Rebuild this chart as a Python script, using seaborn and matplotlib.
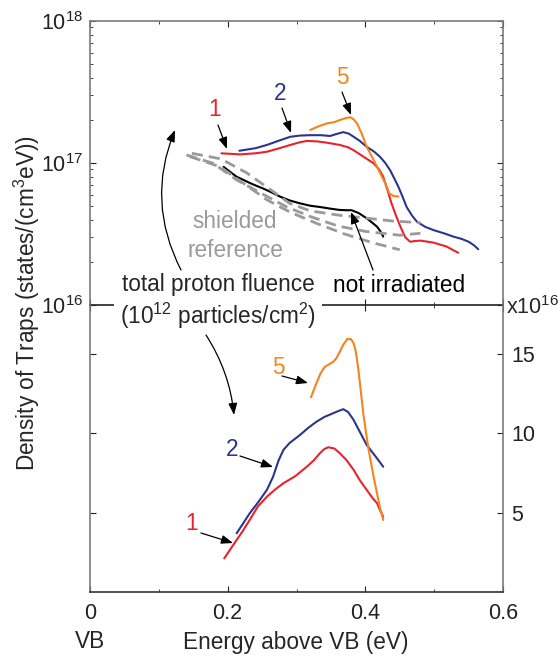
import numpy as np
import pandas as pd
import matplotlib
matplotlib.use("Agg")
import matplotlib.pyplot as plt
from matplotlib.ticker import LogLocator, NullFormatter, MultipleLocator
import seaborn as sns

# energy above VB (eV) and density of traps, upper panel in units of 1e16 states/(cm^3 eV)
up_red_x = [0.191, 0.218, 0.240, 0.257, 0.275, 0.291, 0.305, 0.315, 0.330, 0.344, 0.363, 0.375, 0.383, 0.397, 0.412, 0.420, 0.426,
            0.432, 0.438, 0.445, 0.451, 0.458, 0.465, 0.472, 0.480, 0.499, 0.518, 0.535]
up_red_y = [11.7, 11.5, 11.7, 12.0, 12.7, 13.4, 14.0, 14.3, 14.2, 13.9, 13.4, 12.9, 12.3, 11.1, 9.95, 9.0, 8.0,
            6.5, 5.2, 4.2, 3.56, 3.0, 2.79, 2.82, 2.84, 2.75, 2.58, 2.33]
up_blue_x = [0.217, 0.240, 0.257, 0.275, 0.291, 0.305, 0.320, 0.335, 0.349, 0.358, 0.368, 0.376, 0.383, 0.392, 0.402, 0.412, 0.421,
             0.429, 0.436, 0.442, 0.448, 0.454, 0.460, 0.468, 0.475, 0.487, 0.499, 0.514, 0.528, 0.540, 0.550, 0.558, 0.564]
up_blue_y = [12.2, 12.7, 13.4, 14.4, 15.3, 15.6, 15.7, 15.7, 15.5, 16.0, 16.5, 16.1, 15.3, 14.3, 13.0, 12.1, 11.1,
             10.0, 8.9, 7.8, 6.8, 5.8, 4.9, 4.25, 3.86, 3.55, 3.37, 3.2, 3.03, 2.92, 2.79, 2.63, 2.47]
up_orange_x = [0.320, 0.332, 0.344, 0.355, 0.363, 0.372, 0.378, 0.383, 0.388, 0.395, 0.402, 0.410, 0.417, 0.423, 0.429, 0.435, 0.441, 0.448]
up_orange_y = [17.1, 18.1, 19.0, 19.4, 20.1, 20.7, 21.0, 20.3, 19.0, 16.0, 13.0, 11.0, 9.4, 8.2, 7.2, 6.1, 5.85, 5.8]
up_black_x = [0.194, 0.203, 0.213, 0.223, 0.233, 0.242, 0.252, 0.264, 0.276, 0.290, 0.305, 0.320, 0.334, 0.348, 0.363, 0.372, 0.380,
              0.390, 0.402, 0.410, 0.417, 0.422, 0.426]
up_black_y = [9.4, 8.7, 8.0, 7.6, 7.2, 6.9, 6.6, 6.2, 5.8, 5.45, 5.2, 5.0, 4.9, 4.78, 4.67, 4.65, 4.65,
              4.45, 4.08, 3.8, 3.56, 3.3, 3.03]

# shielded reference (gray dashed)
ref1_x = [0.148, 0.19, 0.228, 0.262, 0.29, 0.32, 0.36, 0.40, 0.44, 0.48]
ref1_y = [11.7, 10.7, 8.5, 6.5, 5.2, 4.6, 4.3, 4.1, 3.9, 3.8]
ref2_x = [0.140, 0.179, 0.213, 0.252, 0.286, 0.320, 0.36, 0.40, 0.45, 0.48]
ref2_y = [11.4, 9.95, 7.6, 6.0, 4.9, 4.2, 3.6, 3.3, 3.1, 3.2]
ref3_x = [0.145, 0.189, 0.223, 0.257, 0.291, 0.329, 0.37, 0.41, 0.45]
ref3_y = [11.1, 9.4, 7.2, 5.5, 4.5, 3.76, 3.16, 2.75, 2.45]

# lower panel, linear, units of 1e16
lo_red_x = [0.195, 0.213, 0.222, 0.232, 0.244, 0.257, 0.270, 0.281, 0.298, 0.315, 0.325, 0.334, 0.340, 0.346, 0.355, 0.363,
            0.373, 0.383, 0.392, 0.402, 0.410, 0.417, 0.421, 0.426]
lo_red_y = [2.12, 3.28, 3.85, 4.54, 5.4, 6.01, 6.5, 6.86, 7.3, 7.9, 8.3, 8.75, 9.0, 9.13, 9.05, 8.75,
            8.3, 7.7, 7.05, 6.44, 5.95, 5.6, 5.2, 4.75]
lo_blue_x = [0.213, 0.232, 0.245, 0.257, 0.266, 0.274, 0.281, 0.290, 0.305, 0.317, 0.329, 0.341, 0.353, 0.360, 0.368, 0.375,
             0.383, 0.392, 0.402, 0.414, 0.426]
lo_blue_y = [3.70, 4.96, 5.7, 6.44, 7.27, 8.3, 8.96, 9.4, 9.9, 10.35, 10.74, 11.05, 11.27, 11.4, 11.53, 11.35,
             10.85, 10.1, 9.27, 8.6, 7.9]
lo_orange_x = [0.321, 0.329, 0.335, 0.341, 0.347, 0.353, 0.358, 0.363, 0.368, 0.374, 0.379, 0.383, 0.386, 0.390, 0.397, 0.404,
               0.412, 0.421, 0.426]
lo_orange_y = [12.28, 13.17, 13.8, 14.2, 14.35, 14.5, 14.75, 15.16, 15.6, 15.96, 15.95, 15.69, 15.2, 14.0, 11.27, 9.17,
               7.27, 5.38, 4.54]

RED = "#e8232b"
BLUE = "#2b3590"
ORANGE = "#f5841f"
GRAY = "#9a9a9a"

sns.set_style("ticks")
plt.rcParams["font.family"] = ["Liberation Sans", "DejaVu Sans"]
plt.rcParams["mathtext.fontset"] = "custom"
plt.rcParams["mathtext.rm"] = "Liberation Sans"
plt.rcParams["mathtext.it"] = "Liberation Sans:italic"
FS = 15.5
FT = 16.3  # annotation text

W, H = 558, 659
fig = plt.figure(figsize=(W / 100, H / 100), dpi=100)


def fx(px):
    return px / W


def fy(py):
    return 1 - py / H


ax_up = fig.add_axes([fx(90), fy(305), (503 - 90) / W, (305 - 21) / H])
ax_lo = fig.add_axes([fx(90), fy(592), (503 - 90) / W, (592 - 305) / H])
ax_up.set_facecolor("none")
ax_lo.set_facecolor("none")

lw = 1.5
sns.lineplot(x=up_red_x, y=np.array(up_red_y) * 1e16, ax=ax_up, color=RED, lw=lw, sort=False, estimator=None)
sns.lineplot(x=up_blue_x, y=np.array(up_blue_y) * 1e16, ax=ax_up, color=BLUE, lw=lw, sort=False, estimator=None)
sns.lineplot(x=up_orange_x, y=np.array(up_orange_y) * 1e16, ax=ax_up, color=ORANGE, lw=lw, sort=False, estimator=None)
sns.lineplot(x=up_black_x, y=np.array(up_black_y) * 1e16, ax=ax_up, color="black", lw=lw, sort=False, estimator=None)
for rx, ry in [(ref1_x, ref1_y), (ref2_x, ref2_y), (ref3_x, ref3_y)]:
    sns.lineplot(x=rx, y=np.array(ry) * 1e16, ax=ax_up, color=GRAY, lw=2.0,
                 linestyle=(0, (4, 2.2)), sort=False, estimator=None)

sns.lineplot(x=lo_red_x, y=lo_red_y, ax=ax_lo, color=RED, lw=lw, sort=False, estimator=None)
sns.lineplot(x=lo_blue_x, y=lo_blue_y, ax=ax_lo, color=BLUE, lw=lw, sort=False, estimator=None)
sns.lineplot(x=lo_orange_x, y=lo_orange_y, ax=ax_lo, color=ORANGE, lw=lw, sort=False, estimator=None)

# axes setup
for ax in (ax_up, ax_lo):
    ax.set_xlim(0, 0.6)
    ax.xaxis.set_major_locator(MultipleLocator(0.2))
    ax.xaxis.set_minor_locator(MultipleLocator(0.1))
    for s in ax.spines.values():
        s.set_visible(True)
        s.set_color("#7a7a7a")
        s.set_linewidth(1.2)
    ax.tick_params(which="both", direction="in", colors="#222222", labelsize=FS,
                   top=True, bottom=True, left=True, right=True)
    ax.tick_params(which="major", length=4)
    ax.tick_params(which="minor", length=2.5)
    ax.set_xlabel("")
    ax.set_ylabel("")

ax_up.set_yscale("log")
ax_up.set_ylim(1e16, 1e18)
ax_up.yaxis.set_minor_locator(LogLocator(base=10, subs=np.arange(2, 10)))
ax_up.yaxis.set_minor_formatter(NullFormatter())
ax_up.tick_params(labelbottom=False, labelleft=True, labelright=False, pad=5)
ax_up.spines["bottom"].set_color("#222222")

ax_lo.set_ylim(0, 18.1)
ax_lo.set_yticks([5, 10, 15])
ax_lo.tick_params(labelleft=False, labelright=True, labelbottom=True, pad=6)
ax_lo.tick_params(axis="x", pad=8)
ax_lo.set_xticks([0, 0.2, 0.4, 0.6])
ax_lo.set_xticklabels(["0", "0.2", "0.4", "0.6"])
ax_lo.spines["top"].set_visible(False)
ax_lo.spines["bottom"].set_color("#333333")

# labels
fig.text(fx(27), fy(303), "Density of Traps (states/(cm$^3$eV))", rotation=90,
         ha="center", va="center", fontsize=FT)
fig.text(fx(296), fy(642), "Energy above VB (eV)", ha="center", va="center", fontsize=FT)
fig.text(fx(90), fy(642), "VB", ha="center", va="center", fontsize=FT)
fig.text(fx(506), fy(308), "x10$^{16}$", ha="left", va="center", fontsize=FS)


# annotations
def label(px, py, s, color="black", **kw):
    fig.text(fx(px), fy(py), s, ha="center", va="center", fontsize=FT, color=color, **kw)


def arrow(p0, p1, rad=0.0):
    fig.add_artist(matplotlib.patches.FancyArrowPatch(
        (fx(p0[0]), fy(p0[1])), (fx(p1[0]), fy(p1[1])), transform=fig.transFigure,
        arrowstyle="-|>,head_length=0.45,head_width=0.17", color="black", lw=0.9,
        shrinkA=0, shrinkB=0, mutation_scale=FS,
        connectionstyle=f"arc3,rad={rad}", zorder=6))


label(215, 110, "1", RED)
label(280, 93, "2", BLUE)
label(342, 77, "5", ORANGE)
arrow((218, 125), (227, 149))
arrow((282, 108), (291, 133))
arrow((342, 92), (351, 115))

label(278, 367, "5", ORANGE)
label(232, 450, "2", BLUE)
label(192, 523, "1", RED)
arrow((282, 376), (308, 383))
arrow((240, 456), (273, 467))
arrow((201, 533), (233, 543))

label(235, 236, "shielded\nreference", GRAY, linespacing=1.3)
label(399, 285, "not irradiated")
arrow((373, 270), (351, 212))

fig.text(fx(218), fy(302), "total proton fluence\n(10$^{12}$ particles/cm$^2$)",
         ha="center", va="center", fontsize=FT, linespacing=1.2,
         bbox=dict(facecolor="white", edgecolor="none", pad=4), zorder=5)
arrow((181, 270), (175, 130), rad=-0.23)
arrow((206, 335), (234, 415), rad=-0.12)

fig.savefig("out.png", dpi=100)
